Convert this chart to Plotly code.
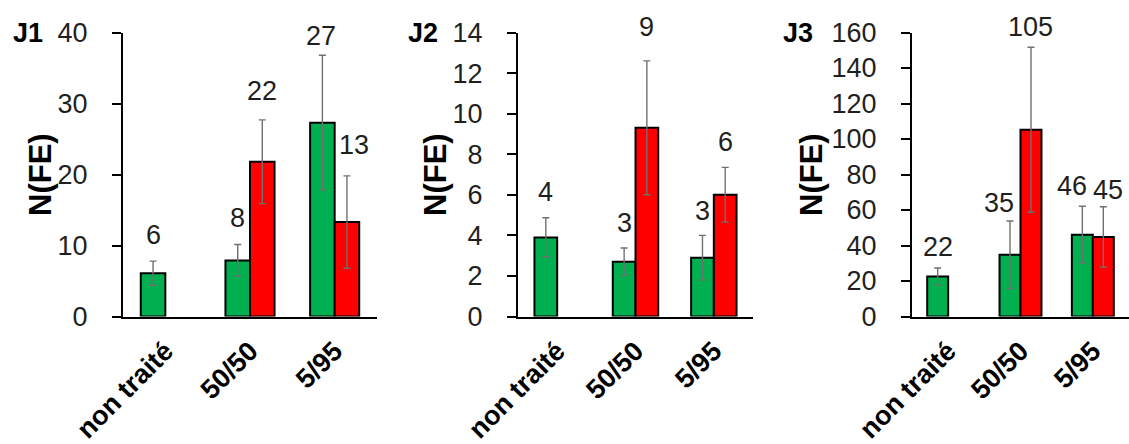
import plotly.graph_objects as go

categories = ["non traité", "50/50", "5/95"]
panels = ["J1", "J2", "J3"]

# values per panel: green series, red series
green_vals = {"J1": [6.1, 7.9, 27.3], "J2": [3.9, 2.7, 2.9], "J3": [22.5, 34.8, 46.1]}
red_vals = {"J1": [None, 21.8, 13.3], "J2": [None, 9.3, 6.0], "J3": [None, 105.2, 44.8]}
green_err = {"J1": [1.7, 2.25, 9.5], "J2": [0.97, 0.68, 1.1], "J3": [4.8, 19.0, 16.0]}
red_err = {"J1": [None, 5.9, 6.5], "J2": [None, 3.3, 1.35], "J3": [None, 46.5, 17.0]}
green_labels = {"J1": ["6", "8", "27"], "J2": ["4", "3", "3"], "J3": ["22", "35", "46"]}
red_labels = {"J1": [None, "22", "13"], "J2": [None, "9", "6"], "J3": [None, "105", "45"]}

y_max = {"J1": 40, "J2": 14, "J3": 160}
y_dtick = {"J1": 10, "J2": 2, "J3": 20}

# styling / layout (pixel offsets of value labels)
green_dy = {"J1": [16, 16, 9], "J2": [16, 15, 14], "J3": [11, 8, 10]}
red_dy = {"J1": [0, 19, 21], "J2": [0, 24, 15], "J3": [0, 10, 7]}
green_dx = {"J1": [0, 0, -1], "J2": [0, 0, 0], "J3": [0, -11, -10]}
red_dx = {"J1": [0, 0, 7], "J2": [0, 0, 0], "J3": [0, 0, 5]}

W, H = 1129, 444
x_domains = [(123 / W, 377 / W), (518 / W, 753 / W), (912 / W, 1.0)]
y_domain = ((H - 316.5) / H, (H - 32.5) / H)

GREEN = "#00B050"
RED = "#FF0000"
FONT = "Liberation Sans, Arial, sans-serif"
TXT = "#1f1f1f"
ERR = "#707070"
bargap = 0.42
half = (1 - bargap) / 4

fig = go.Figure()
annotations = []
for i, p in enumerate(panels):
    ax = "" if i == 0 else str(i + 1)
    xref, yref = "x" + ax, "y" + ax
    idx = list(range(len(categories)))
    fig.add_trace(go.Bar(
        x=idx, y=green_vals[p], xaxis=xref, yaxis=yref,
        marker=dict(color=GREEN, line=dict(color="black", width=2)),
        error_y=dict(type="data", array=green_err[p], color=ERR, thickness=1.4, width=3.5),
        showlegend=False, hoverinfo="skip"))
    fig.add_trace(go.Bar(
        x=idx, y=red_vals[p], xaxis=xref, yaxis=yref,
        marker=dict(color=RED, line=dict(color="black", width=2)),
        error_y=dict(type="data", array=[e if e is not None else 0 for e in red_err[p]],
                     color=ERR, thickness=1.4, width=3.5),
        showlegend=False, hoverinfo="skip"))
    for j in idx:
        for vals, errs, labs, dys, dxs, off in (
            (green_vals[p], green_err[p], green_labels[p], green_dy[p], green_dx[p], -half),
            (red_vals[p], red_err[p], red_labels[p], red_dy[p], red_dx[p], half)):
            if vals[j] is None:
                continue
            annotations.append(dict(
                x=j + off, y=vals[j] + errs[j], xref=xref, yref=yref,
                text=labs[j], showarrow=False, yanchor="bottom", xanchor="center",
                yshift=dys[j] - 7, xshift=dxs[j],
                font=dict(family=FONT, size=27, color=TXT)))
    x0, x1 = x_domains[i]
    fig.update_layout(**{
        "xaxis" + ax: dict(
            domain=[x0, x1], range=[-0.5, 2.5], tickmode="array", tickvals=idx,
            ticktext=["<b>%s</b>" % c for c in categories], tickangle=-45,
            showline=True, linecolor="black", linewidth=2, ticks="",
            showgrid=False, zeroline=False, fixedrange=True, automargin=False,
            ticklabelstandoff=6,
            tickfont=dict(family=FONT, size=27, color="black"), anchor=yref),
        "yaxis" + ax: dict(
            domain=list(y_domain), range=[0, y_max[p]], dtick=y_dtick[p], tick0=0,
            showline=True, linecolor="black", linewidth=2, ticks="outside",
            ticklen=9, tickwidth=1.6, tickcolor="black", showgrid=False, zeroline=False,
            tickfont=dict(family=FONT, size=27, color=TXT), ticklabelstandoff=19,
            automargin=False, anchor=xref),
    })
    # panel letter and axis title
    annotations.append(dict(
        x=[27.5, 423, 798][i] / W, y=(H - 33) / H, xref="paper", yref="paper",
        text="<b>%s</b>" % p, showarrow=False, xanchor="center", yanchor="middle",
        font=dict(family=FONT, size=27, color="black")))
    annotations.append(dict(
        x=[40, 435, 811][i] / W, y=(H - 175) / H, xref="paper", yref="paper",
        text="<b>N(FE)</b>", showarrow=False, textangle=-90, xanchor="center", yanchor="middle",
        font=dict(family=FONT, size=31, color="black")))

fig.update_layout(
    width=W, height=H, margin=dict(l=0, r=0, t=0, b=0, autoexpand=False),
    barmode="group", bargap=bargap, bargroupgap=0,
    paper_bgcolor="white", plot_bgcolor="white",
    annotations=annotations,
)
fig.write_html("out.html", config={"displayModeBar": False},
               post_script="document.body.style.margin='0';document.body.style.overflow='hidden';")
